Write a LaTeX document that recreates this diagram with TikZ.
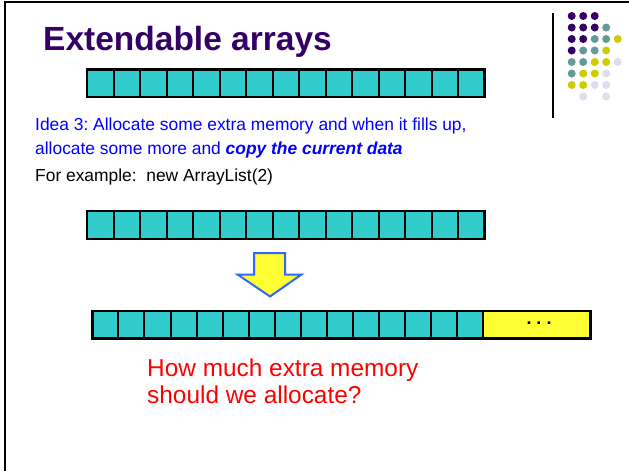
\documentclass[tikz,border=0pt]{standalone}
\usepackage{fontspec}
\setmainfont{Liberation Sans}
\usetikzlibrary{positioning}
\frenchspacing

\definecolor{titlepurple}{HTML}{330066}
\definecolor{cellteal}{HTML}{33CCCC}
\definecolor{spareyellow}{HTML}{FFFF33}
\definecolor{arrowblue}{HTML}{3366FF}
\definecolor{ideablue}{HTML}{0000FF}
\definecolor{dotpurple}{HTML}{330066}
\definecolor{dotteal}{HTML}{669999}
\definecolor{dotyellow}{HTML}{CCCC00}
\definecolor{dotlav}{HTML}{DDDDEE}

\begin{document}
\begin{tikzpicture}[x=1pt,y=-1pt,
		cell/.style={fill=cellteal,draw=black,line width=2pt},
		spare/.style={fill=spareyellow,draw=black,line width=2pt},
		outline/.style={draw=black,line width=2.8pt},
		line/.style={anchor=base west,inner sep=0pt},
		idea/.style={line,text=ideablue,font=\fontsize{17.4}{21}\selectfont}]

		\useasboundingbox (0,0) rectangle (629,471);

		% slide frame
		\draw[line width=2pt] (5,471) -- (5,2) -- (629,2);
		\draw[line width=2pt] (553,13) -- (553,118);

		% dot logo
		\foreach \c/\r/\col in {1/1/dotpurple,2/1/dotpurple,3/1/dotpurple,
				1/2/dotpurple,2/2/dotpurple,3/2/dotpurple,4/2/dotteal,
				1/3/dotpurple,2/3/dotpurple,3/3/dotteal,4/3/dotteal,5/3/dotyellow,
				1/4/dotpurple,2/4/dotteal,3/4/dotteal,4/4/dotyellow,
				1/5/dotteal,2/5/dotteal,3/5/dotyellow,4/5/dotyellow,5/5/dotlav,
				1/6/dotteal,2/6/dotyellow,3/6/dotyellow,4/6/dotlav,
				1/7/dotyellow,2/7/dotyellow,3/7/dotlav,4/7/dotlav,
				2/8/dotlav,4/8/dotlav}
			\fill[\col] (560.2+\c*11.5,4.5+\r*11.5) circle (4);

		\node[line,text=titlepurple,font=\bfseries\fontsize{33.5}{38}\selectfont] (title) at (43,50) {Extendable arrays};

		% first array
		\foreach \i in {0,...,14}
			\draw[cell] (87+\i*26.5,69.5) rectangle ++(26.5,27.5);
		\draw[outline] (87,69.5) rectangle (484.5,97);

		\node[idea] (idea1) at (35,130.7) {Idea 3: Allocate some extra memory and when it fills up,};
		\node[idea] (idea2) at (35,154) {allocate some more and \textbf{\textit{copy the current data}}};
		\node[line,font=\fontsize{17.4}{21}\selectfont] (example) at (35,181) {For example:\ \ new ArrayList(2)};

		% second array
		\foreach \i in {0,...,14}
			\draw[cell] (87+\i*26.5,211) rectangle ++(26.5,28);
		\draw[outline] (87,211) rectangle (484.5,239);

		% block arrow
		\draw[fill=spareyellow,draw=arrowblue,line width=2pt,line join=miter]
			(254,253) -- (285,253) -- (285,274.5) -- (301.5,274.5) -- (270,296.5)
			-- (237.5,274.5) -- (254,274.5) -- cycle;

		% grown array
		\foreach \i in {0,...,14}
			\draw[cell] (92.3+\i*26.07,311) rectangle ++(26.07,27.5);
		\draw[spare] (483.3,311) rectangle (590.7,338.5);
		\draw[outline] (92.3,311) rectangle (590.7,338.5);
		\node[anchor=base,inner sep=0pt,font=\bfseries\fontsize{18}{20}\selectfont] (dots) at (539,324) {.\ .\ .};

		\node[line,text=red,font=\fontsize{24.4}{29}\selectfont] (ask1) at (147,376.5) {How much extra memory};
		\node[line,text=red,font=\fontsize{24.4}{29}\selectfont] (ask2) at (147,403.3) {should we allocate?};

\end{tikzpicture}
\end{document}
